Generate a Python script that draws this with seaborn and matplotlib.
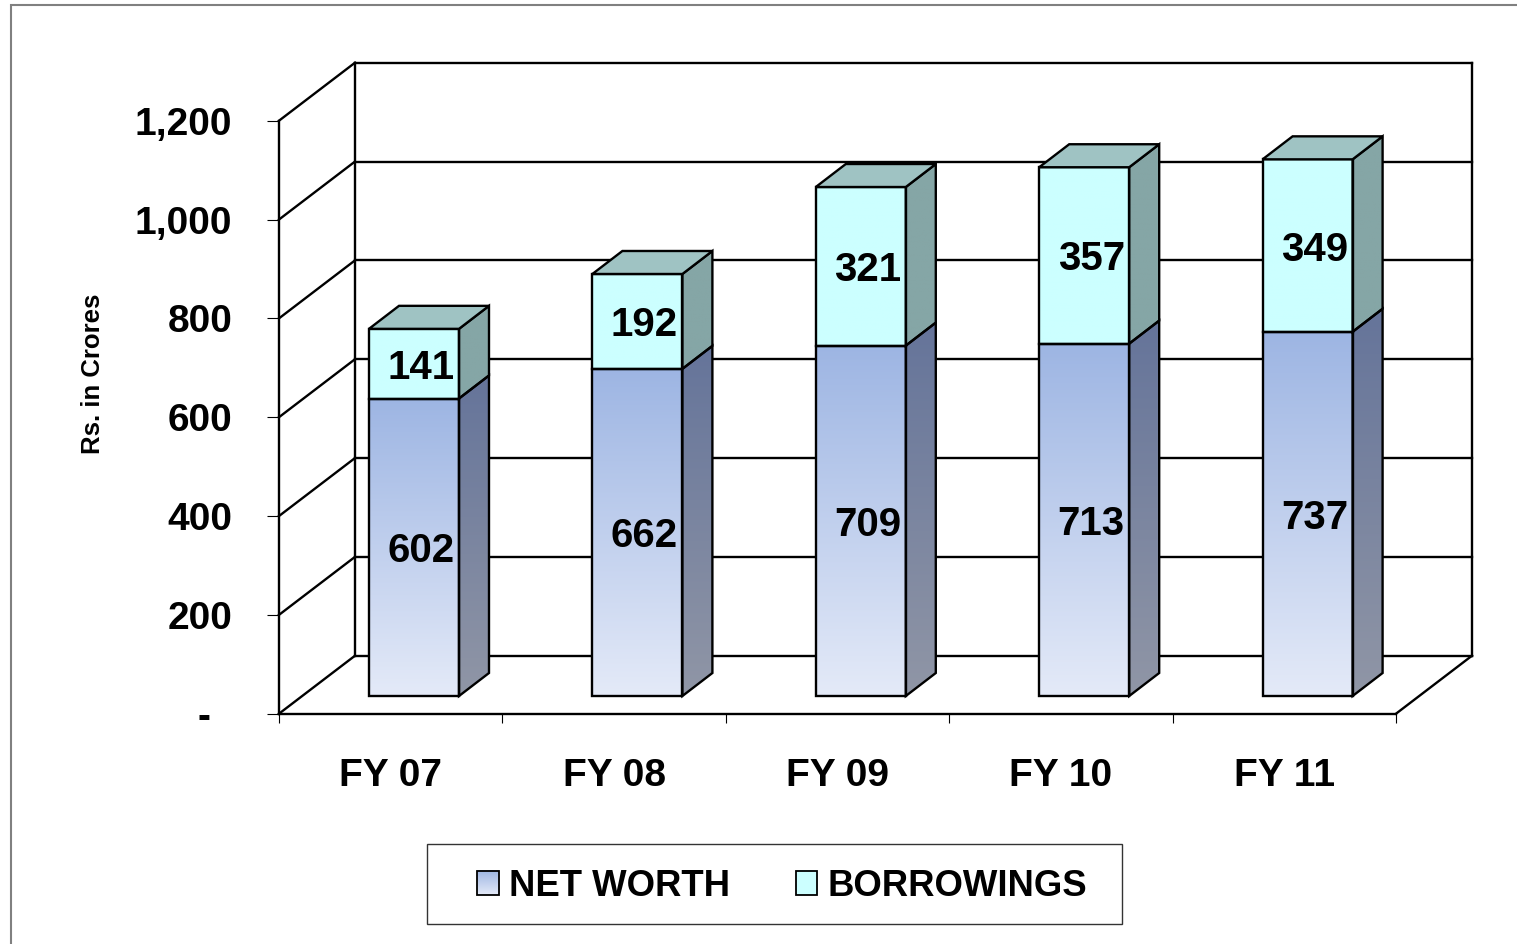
import numpy as np
import pandas as pd
import matplotlib
matplotlib.use("Agg")
import matplotlib.pyplot as plt
import seaborn as sns
from matplotlib.colors import LinearSegmentedColormap
from matplotlib.image import BboxImage
from matplotlib.legend_handler import HandlerBase
from matplotlib.patches import Patch, Rectangle
from matplotlib.transforms import Affine2D, Bbox, TransformedBbox


# ======================================================
# DATA
# ======================================================
years = ["FY 07", "FY 08", "FY 09", "FY 10", "FY 11"]
net_worth = [602, 662, 709, 713, 737]
borrowings = [141, 192, 321, 357, 349]
y_ticks = [0, 200, 400, 600, 800, 1000, 1200]
y_labels = ["-  ", "200", "400", "600", "800", "1,000", "1,200"]

df = pd.DataFrame({"year": years, "net": net_worth, "bor": borrowings})


# ======================================================
# FIGURE / AXES
# ======================================================
W, H = 1517, 944
sns.set_theme(style="white")
plt.rcParams["font.family"] = ["Liberation Sans", "DejaVu Sans"]
plt.rcParams["font.weight"] = "bold"
plt.rcParams["text.color"] = "black"
plt.rcParams["axes.labelcolor"] = "black"
plt.rcParams["xtick.labelcolor"] = "black"
plt.rcParams["ytick.labelcolor"] = "black"

fig = plt.figure(figsize=(W / 100, H / 100), dpi=100)
ax = fig.add_axes([279 / W, 1 - 713.7 / H, 1117 / W, 593 / H])

PX = 5 / 1117       # one pixel in x data units
PY = 1200 / 593     # one pixel in y data units
LW = 1.7

# depth of the fake 3D box and of the columns
wall_dx, wall_dy = 76 * PX, 58 * PY
bar_dx, bar_dy = 30 * PX, 23 * PY
shift_x, shift_y = 23.3 * PX, 17.7 * PY

front_net = LinearSegmentedColormap.from_list("fn", ["#9DB5E3", "#E4EAF8"])
side_net = LinearSegmentedColormap.from_list("sn", ["#65749A", "#9096A6"])
front_bor = LinearSegmentedColormap.from_list("fb", ["#CCFFFF", "#CCFFFF"])
side_bor = LinearSegmentedColormap.from_list("sb", ["#85A6A6", "#85A6A6"])
grad = np.linspace(0, 1, 256).reshape(-1, 1)


# ======================================================
# COLUMNS
# ======================================================
bar_width = 90 * PX
sns.barplot(data=df, x="year", y="net", width=bar_width, color="#9DB5E3",
            saturation=1, ax=ax, legend=False)
sns.barplot(data=df, x="year", y="bor", bottom=df["net"], width=bar_width,
            color="#CCFFFF", saturation=1, ax=ax, legend=False)


def gradient_fill(artist, cmap, extent):
    im = ax.imshow(grad, cmap=cmap, extent=extent, aspect="auto",
                   origin="upper", zorder=3)
    im.set_clip_path(artist)


for container, front, side in zip(ax.containers[:2],
                                  [front_net, front_bor],
                                  [side_net, side_bor]):
    for bar in container:
        bar.set_x(bar.get_x() + shift_x)
        bar.set_y(bar.get_y() + shift_y)
        x0, y0 = bar.get_x(), bar.get_y()
        w, h = bar.get_width(), bar.get_height()
        x1, y1 = x0 + w, y0 + h
        gradient_fill(bar, front, [x0, x1, y0, y1])
        bar.set_facecolor("none")
        bar.set_edgecolor("black")
        bar.set_linewidth(LW)
        bar.set_zorder(4)

        side_poly = ax.fill([x1, x1 + bar_dx, x1 + bar_dx, x1],
                            [y0, y0 + bar_dy, y1 + bar_dy, y1],
                            facecolor="none", edgecolor="black", lw=LW,
                            zorder=4, clip_on=False)[0]
        gradient_fill(side_poly, side, [x1, x1 + bar_dx, y0, y1 + bar_dy])

# lid on top of each column
for bar in ax.containers[1]:
    x0, x1 = bar.get_x(), bar.get_x() + bar.get_width()
    top = bar.get_y() + bar.get_height()
    ax.fill([x0, x0 + bar_dx, x1 + bar_dx, x1],
            [top, top + bar_dy, top + bar_dy, top],
            facecolor="#9FC3C3", edgecolor="black", lw=LW, zorder=4,
            clip_on=False)

# value labels
for container, vals in zip(ax.containers[:2], [net_worth, borrowings]):
    for bar, val in zip(container, vals):
        ax.text(bar.get_x() + bar.get_width() / 2 + 7 * PX,
                bar.get_y() + bar.get_height() / 2 - 4 * PY, str(val),
                ha="center", va="center", fontsize=29, fontweight="bold",
                color="black", zorder=6)


# ======================================================
# WALLS AND GRID
# ======================================================
xl, xr = -0.5, 4.5
line_kw = dict(color="black", lw=LW, zorder=2, clip_on=False,
               solid_capstyle="projecting")

for v in y_ticks:
    ax.plot([xl, xl + wall_dx], [v, v + wall_dy], **line_kw)
    ax.plot([xl + wall_dx, xr + wall_dx], [v + wall_dy, v + wall_dy], **line_kw)

ax.plot([xl + wall_dx, xl + wall_dx], [wall_dy, 1200 + wall_dy], **line_kw)
ax.plot([xr + wall_dx, xr + wall_dx], [wall_dy, 1200 + wall_dy], **line_kw)
ax.plot([xr, xr + wall_dx], [0, wall_dy], **line_kw)

ax.set_xlim(xl, xr)
ax.set_ylim(0, 1200)


# ======================================================
# AXES, TICKS, LABELS
# ======================================================
ax.patch.set_alpha(0)
sns.despine(ax=ax, top=True, right=True)
for s in ["left", "bottom"]:
    ax.spines[s].set_color("black")
    ax.spines[s].set_linewidth(LW)

ax.set_yticks(y_ticks, labels=y_labels)
ax.tick_params(axis="y", left=True, length=8.6, width=0.8, color="black",
               pad=25, labelsize=28, labelcolor="black")
for lab in ax.get_yticklabels():
    lab.set_verticalalignment("center")
    lab.set_transform(lab.get_transform() + Affine2D().translate(0, -4))

ax.set_xticks(np.arange(-0.5, 5), labels=[""] * 6)
ax.tick_params(axis="x", which="major", bottom=True, length=6.5, width=0.8,
               color="black")
ax.set_xticks(range(5), labels=years, minor=True)
ax.tick_params(axis="x", which="minor", bottom=True, length=0, pad=32,
               labelsize=28, labelcolor="black")

ax.set_xlabel("")
ax.set_ylabel("Rs. in Crores", fontsize=18.5, fontweight="bold", color="black")
ax.yaxis.set_label_coords((105 - 279) / 1117, (713.7 - 374) / 593)


# ======================================================
# LEGEND
# ======================================================
class GradientHandle(HandlerBase):
    def __init__(self, cmap):
        super().__init__()
        self.cmap = cmap

    def create_artists(self, legend, orig_handle, xdescent, ydescent,
                       width, height, fontsize, trans):
        box = Bbox.from_bounds(-xdescent, -ydescent, width, height)
        im = BboxImage(TransformedBbox(box, trans), cmap=self.cmap,
                       origin="upper")
        im.set_data(grad)
        edge = Rectangle((-xdescent, -ydescent), width, height,
                         facecolor="none", edgecolor="black", lw=1.3,
                         transform=trans)
        return [im, edge]


h_net = Patch(label="NET WORTH")
h_bor = Patch(label="BORROWINGS")
fig.add_artist(Rectangle((427 / W, 1 - 924 / H), 695 / W, 80 / H,
                         transform=fig.transFigure, facecolor="white",
                         edgecolor="#333333", lw=1, zorder=-1))
leg = ax.legend(handles=[h_net, h_bor], ncol=2, frameon=False,
                loc="center", bbox_to_anchor=(782 / W, 1 - 886 / H),
                bbox_transform=fig.transFigure,
                handler_map={h_net: GradientHandle(front_net),
                             h_bor: GradientHandle(front_bor)},
                handlelength=0.58, handleheight=0.64, handletextpad=0.28,
                columnspacing=1.8, labelcolor="black",
                prop={"family": "Liberation Sans", "weight": "bold", "size": 26.3})
leg.set_zorder(10)

# outer frame, runs off the right and bottom edges
fig.add_artist(Rectangle((10.5 / W, -0.1), 1.2, 1.1 - 5 / H,
                         transform=fig.transFigure, facecolor="none",
                         edgecolor="#808080", lw=1.5))

fig.savefig("out.png", dpi=100, facecolor="white")
